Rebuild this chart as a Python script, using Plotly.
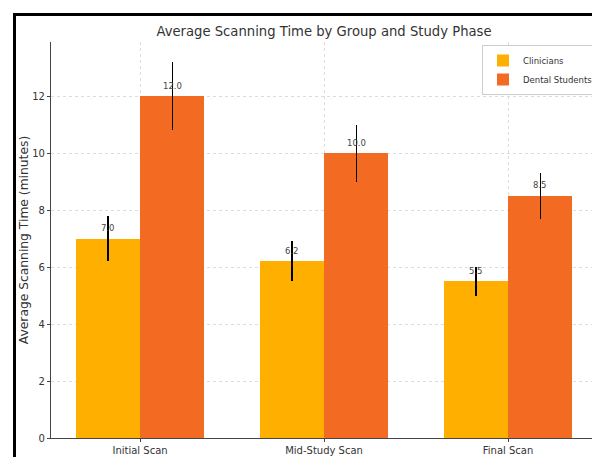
import plotly.graph_objects as go

phases = ["Initial Scan", "Mid-Study Scan", "Final Scan"]
clinicians = [7.0, 6.2, 5.5]
clinicians_err = [0.8, 0.7, 0.5]
students = [12.0, 10.0, 8.5]
students_err = [1.2, 1.0, 0.8]
y_ticks = [0, 2, 4, 6, 8, 10, 12]

W, H = 592, 457
L, R, T, B = 51, 0, 42, 19
FONT = "DejaVu Sans, sans-serif"

x_idx = list(range(len(phases)))
bw = 0.35
c_col = "#FFAF00"
s_col = "#F36B22"

fig = go.Figure()
fig.add_trace(go.Bar(
    x=[i - bw / 2 for i in x_idx], y=clinicians, width=bw, name="Clinicians",
    marker=dict(color=c_col, line=dict(width=0)),
    error_y=dict(type="data", array=clinicians_err, color="black", thickness=1.4, width=0),
))
fig.add_trace(go.Bar(
    x=[i + bw / 2 for i in x_idx], y=students, width=bw, name="Dental Students",
    marker=dict(color=s_col, line=dict(width=0)),
    error_y=dict(type="data", array=students_err, color="black", thickness=1.4, width=0),
))

for i, v in enumerate(clinicians):
    fig.add_annotation(x=i - bw / 2, y=v + 0.12, text=f"{v:.1f}", showarrow=False,
                       yanchor="bottom", font=dict(size=8.5, color="#444", family=FONT))
for i, v in enumerate(students):
    fig.add_annotation(x=i + bw / 2, y=v + 0.12, text=f"{v:.1f}", showarrow=False,
                       yanchor="bottom", font=dict(size=8.5, color="#444", family=FONT))

pw = W - L - R
ph = H - T - B
def px_to_paper_x(px):
    return (px - L) / pw
def px_to_paper_y(py):
    return (H - B - py) / ph

# outer black frame (left and top edges visible)
fig.add_shape(type="line", xref="paper", yref="paper",
              x0=px_to_paper_x(14.5), x1=px_to_paper_x(14.5),
              y0=px_to_paper_y(13), y1=px_to_paper_y(470),
              line=dict(color="black", width=3))
fig.add_shape(type="line", xref="paper", yref="paper",
              x0=px_to_paper_x(13), x1=px_to_paper_x(600),
              y0=px_to_paper_y(14.5), y1=px_to_paper_y(14.5),
              line=dict(color="black", width=3))

x_left = -0.484
x_right = x_left + pw / 184.0

fig.update_layout(
    width=W, height=H,
    margin=dict(l=L, r=R, t=T, b=B, autoexpand=False),
    paper_bgcolor="white", plot_bgcolor="white",
    barmode="overlay", bargap=0,
    title=dict(text="Average Scanning Time by Group and Study Phase",
               x=324 / W, xanchor="center", xref="container",
               y=1 - 31 / H, yanchor="middle", yref="container",
               font=dict(family=FONT, size=13.2, color="#333")),
    xaxis=dict(
        range=[x_left, x_right], tickmode="array", tickvals=x_idx, ticktext=phases,
        showgrid=True, gridcolor="#dddddd", griddash="dot", gridwidth=1,
        showline=True, linecolor="#444", linewidth=1.2,
        ticks="outside", ticklen=3, tickcolor="#444", automargin=False,
        tickfont=dict(family=FONT, size=10, color="#333"), zeroline=False,
    ),
    yaxis=dict(
        range=[0, 13.9], tickmode="array", tickvals=y_ticks,
        showgrid=True, gridcolor="#dddddd", griddash="dot", gridwidth=1,
        showline=True, linecolor="#444", linewidth=1.2,
        ticks="outside", ticklen=3, tickcolor="#444", automargin=False,
        tickfont=dict(family=FONT, size=10, color="#333"), zeroline=False,
        title=dict(text="Average Scanning Time (minutes)", standoff=0,
                   font=dict(family=FONT, size=12.3, color="#333")),
    ),
    legend=dict(
        x=px_to_paper_x(482), y=px_to_paper_y(45), xanchor="left", yanchor="top",
        bgcolor="white", bordercolor="#cccccc", borderwidth=1,
        font=dict(family=FONT, size=8.5, color="#333"),
        itemwidth=30, tracegroupgap=0,
    ),
    showlegend=True,
)

fig.write_html(
    "out.html",
    config={"displayModeBar": False},
    post_script="document.body.style.margin='0';document.body.style.overflow='hidden';",
)
